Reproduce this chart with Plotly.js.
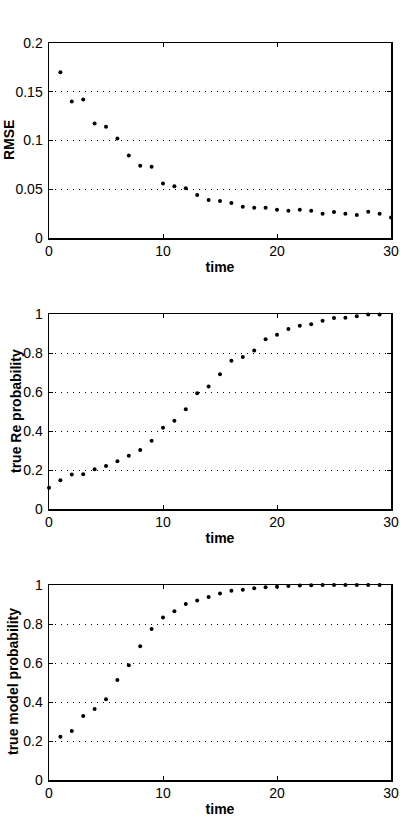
<!DOCTYPE html>
<html>
<head>
<meta charset="utf-8">
<script src="https://cdn.plot.ly/plotly-3.0.1.min.js"></script>
<style>html,body{margin:0;padding:0;background:#fff;}#chart{width:405px;height:820px;}</style>
</head>
<body>
<div id="chart"></div>
<script>
// ---- data ----
const timeRmse = [1,2,3,4,5,6,7,8,9,10,11,12,13,14,15,16,17,18,19,20,21,22,23,24,25,26,27,28,29,30];
const rmse = [0.170,0.140,0.142,0.1175,0.114,0.102,0.0845,0.074,0.073,0.056,0.053,0.051,0.044,0.039,0.038,0.036,0.032,0.031,0.031,0.029,0.028,0.029,0.028,0.025,0.0266,0.025,0.0235,0.027,0.025,0.021];

const timeRe = [0,1,2,3,4,5,6,7,8,9,10,11,12,13,14,15,16,17,18,19,20,21,22,23,24,25,26,27,28,29];
const reProb = [0.109,0.148,0.177,0.178,0.204,0.220,0.245,0.273,0.302,0.350,0.417,0.453,0.511,0.593,0.628,0.691,0.760,0.780,0.813,0.870,0.894,0.923,0.940,0.948,0.966,0.979,0.981,0.988,0.997,0.997];

const timeModel = [1,2,3,4,5,6,7,8,9,10,11,12,13,14,15,16,17,18,19,20,21,22,23,24,25,26,27,28,29];
const modelProb = [0.222,0.251,0.328,0.364,0.414,0.513,0.588,0.686,0.774,0.833,0.865,0.903,0.920,0.938,0.956,0.971,0.976,0.983,0.988,0.991,0.995,0.997,0.999,1.0,1.0,1.0,1.0,1.0,1.0];

const xTickVals = [0,10,20,30];
const xTickText = ['0','10','20','30'];
const rmseTickVals = [0,0.05,0.1,0.15,0.2];
const rmseTickText = ['0','0.05','0.1','0.15','0.2'];
const probTickVals = [0,0.2,0.4,0.6,0.8,1];
const probTickText = ['0','0.2','0.4','0.6','0.8','1'];
const yTitles = ['RMSE','true Re probability','true model probability'];

// ---- styling ----
const W = 405, H = 820, L = 49, R = 14;
const tickFont = {family:'Liberation Sans, Arial, sans-serif', size:14, color:'#000'};
const titleFont = {family:'Liberation Sans, Arial, sans-serif', size:14, color:'#000', weight:'bold'};

function xax(anchor){
  return {
    anchor: anchor, domain:[0,1], range:[0,30],
    tickvals: xTickVals, ticktext: xTickText,
    ticks:'inside', ticklen:4, tickwidth:1, tickcolor:'#000',
    showline:true, linecolor:'#000', linewidth:1.5, mirror:'ticks',
    showgrid:false, zeroline:false, tickfont:tickFont,
    title:{text:'<b>time</b>', font:titleFont, standoff:4}
  };
}
function yax(anchor, domain, range, tv, tt){
  return {
    anchor: anchor, domain: domain, range: range,
    tickvals: tv, ticktext: tt,
    ticks:'inside', ticklen:4, tickwidth:1, tickcolor:'#000',
    showline:true, linecolor:'#000', linewidth:1.5, mirror:'ticks',
    showgrid:true, gridcolor:'#000', gridwidth:1, griddash:'1px,5px',
    zeroline:false, tickfont:tickFont, ticklabelstandoff:2
  };
}
function ytitle(text, px, py){
  return {
    text:'<b>'+text+'</b>', font:titleFont, textangle:-90,
    xref:'paper', yref:'paper', x:(px-L)/(W-L-R), y:1-py/H,
    xanchor:'center', yanchor:'middle', showarrow:false
  };
}

const mk = {color:'#000', size:4, symbol:'circle'};
const data = [
  {x:timeRmse, y:rmse, xaxis:'x', yaxis:'y', mode:'markers', type:'scatter', marker:mk, cliponaxis:false},
  {x:timeRe, y:reProb, xaxis:'x2', yaxis:'y2', mode:'markers', type:'scatter', marker:mk, cliponaxis:false},
  {x:timeModel, y:modelProb, xaxis:'x3', yaxis:'y3', mode:'markers', type:'scatter', marker:mk, cliponaxis:false}
];

const layout = {
  width:W, height:H,
  margin:{l:L, r:R, t:0, b:0},
  paper_bgcolor:'#fff', plot_bgcolor:'#fff',
  showlegend:false,
  xaxis: xax('y'),
  xaxis2: xax('y2'),
  xaxis3: xax('y3'),
  yaxis: yax('x', [1-238/H, 1-43/H], [0,0.2], rmseTickVals, rmseTickText),
  yaxis2: yax('x2', [1-509/H, 1-314/H], [0,1], probTickVals, probTickText),
  yaxis3: yax('x3', [1-780/H, 1-585/H], [0,1], probTickVals, probTickText),
  annotations: [
    ytitle(yTitles[0], 9, 140),
    ytitle(yTitles[1], 16, 411),
    ytitle(yTitles[2], 13, 682)
  ]
};

Plotly.newPlot('chart', data, layout, {displayModeBar:false, staticPlot:true});
</script>
</body>
</html>
